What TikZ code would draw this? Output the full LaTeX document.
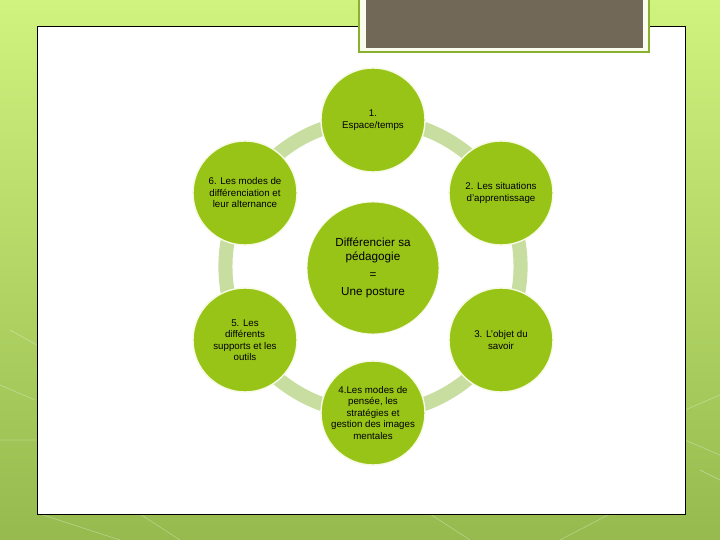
\documentclass[tikz,border=0pt]{standalone}
\usepackage{fontspec}
\setmainfont{Liberation Sans}
\usetikzlibrary{backgrounds}
\definecolor{fondhaut}{RGB}{208,242,126}
\definecolor{fondbas}{RGB}{150,186,78}
\definecolor{vertpomme}{RGB}{152,196,24}
\definecolor{sauge}{RGB}{200,222,160}
\definecolor{creme}{RGB}{246,250,226}
\definecolor{taupe}{RGB}{113,104,88}
\definecolor{olive}{RGB}{138,176,48}
\tikzset{
  etape/.style={circle, fill=vertpomme, draw=creme, line width=1.2pt,
    minimum size=3.12cm, inner sep=0pt, align=center,
    font=\fontsize{8.3}{9.8}\selectfont},
  coeur/.style={circle, fill=vertpomme, draw=creme, line width=0.8pt,
    minimum size=3.96cm, inner sep=0pt, align=center,
    font=\fontsize{10}{12}\selectfont},
  anneau/.style={sauge, line width=12pt, line cap=butt}
}
\begin{document}
\begin{tikzpicture}[x=0.03cm, y=-0.03cm, line join=round]
       	\useasboundingbox (0,0) rectangle (720,540);
       	\clip (0,0) rectangle (720,540);
       	% le cycle
       	\node[coeur] (centre) at (373,268) {Différencier sa\\pédagogie\\[3pt]=\\[3pt]Une posture};
       	\node[etape] (e1) at (373,120) {1.\\Espace/temps};
       	\node[etape] (e2) at (501,193) {2. Les situations\\d'apprentissage};
       	\node[etape] (e3) at (501,340) {3. L'objet du\\savoir};
       	\node[etape] (e4) at (373,413) {4.Les modes de\\pensée, les\\stratégies et\\gestion des images\\mentales};
       	\node[etape] (e5) at (245,340) {5. Les\\différents\\supports et les\\outils};
       	\node[etape] (e6) at (245,193) {6. Les modes de\\différenciation et\\leur alternance};
       	\begin{scope}[on background layer]
       		% fond de la diapositive
       		\shade[top color=fondhaut, bottom color=fondbas] (0,0) rectangle (720,540);
       		\draw[white, opacity=0.3, line width=0.6pt] (0,385)--(35,400) (0,440)--(37,440) (10,330)--(37,345)
       			(40,514)--(120,540) (140,514)--(180,540) (430,514)--(470,540) (560,540)--(610,514)
       			(685,410)--(720,395) (685,440)--(720,455) (700,470)--(720,480);
       		\draw[black, line width=0.8pt, fill=white] (37,26) rectangle (685,514);
       		% bandeau du titre
       		\draw[olive, line width=1.6pt, fill=creme!60!white] (359,-5) rectangle (649,52);
       		\fill[taupe] (366,-5) rectangle (643,48);
       		\foreach \a/\b in {e1/e2,e2/e3,e3/e4,e4/e5,e5/e6,e6/e1}
       			\draw[anneau] (\a.center) to[bend left=30, looseness=0.91] (\b.center);
       	\end{scope}
\end{tikzpicture}
\end{document}
